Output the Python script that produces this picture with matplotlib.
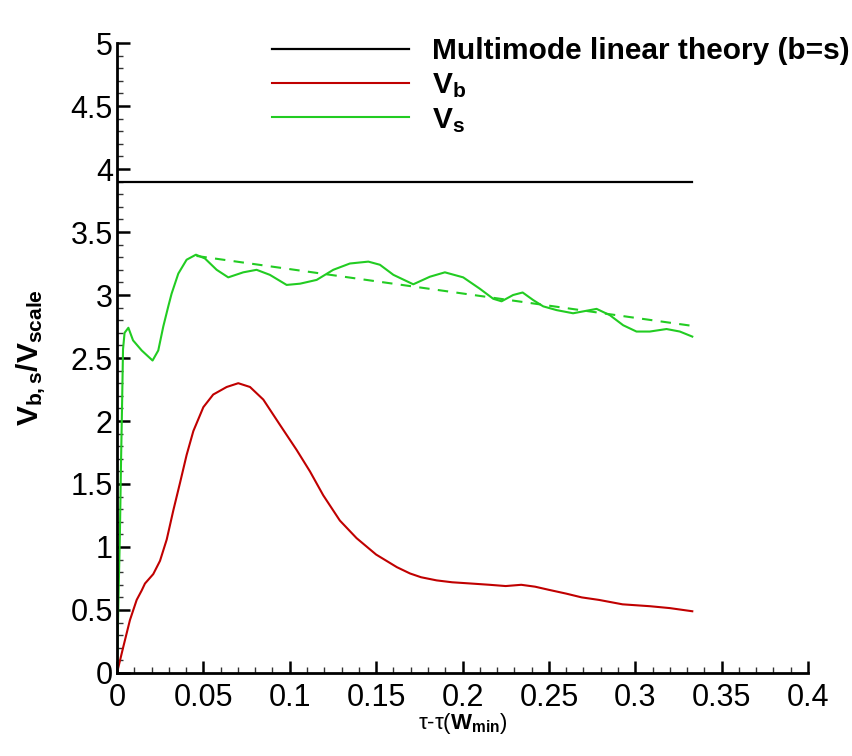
import numpy as np
import matplotlib
matplotlib.use('Agg')
import matplotlib.pyplot as plt
from matplotlib.ticker import MultipleLocator, FuncFormatter

# Data
theory_x = [0.0, 0.333]
theory_y = [3.9, 3.9]

vb_x = [0.0, 0.0037, 0.0075, 0.0114, 0.0143, 0.0162, 0.021, 0.0249, 0.0288, 0.0326,
        0.0365, 0.0403, 0.0442, 0.050, 0.0557, 0.0635, 0.0702, 0.077, 0.0847, 0.0943,
        0.104, 0.1117, 0.1194, 0.129, 0.1387, 0.150, 0.162, 0.1696, 0.176, 0.185,
        0.194, 0.205, 0.2157, 0.225, 0.234, 0.242, 0.250, 0.260, 0.269, 0.279,
        0.2926, 0.3085, 0.320, 0.333]
vb_y = [0.0, 0.21, 0.42, 0.58, 0.655, 0.71, 0.785, 0.89, 1.06, 1.29,
        1.51, 1.73, 1.92, 2.11, 2.21, 2.27, 2.30, 2.27, 2.17, 1.97,
        1.77, 1.60, 1.41, 1.21, 1.07, 0.94, 0.84, 0.79, 0.76, 0.735,
        0.72, 0.71, 0.70, 0.69, 0.70, 0.685, 0.66, 0.63, 0.60, 0.58,
        0.545, 0.53, 0.515, 0.49]

vs_x = [0.0, 0.0008, 0.0017, 0.0023, 0.003, 0.0035, 0.0044, 0.0066, 0.0093, 0.0143,
        0.0206, 0.0239, 0.0268, 0.0297, 0.0316, 0.0355, 0.0403, 0.0457, 0.0509, 0.0577,
        0.0644, 0.0731, 0.0808, 0.0885, 0.0982, 0.106, 0.1156, 0.1252, 0.1348, 0.1455,
        0.1522, 0.160, 0.1715, 0.1811, 0.1898, 0.2004, 0.210, 0.2178, 0.2226, 0.2293,
        0.2348, 0.2409, 0.2467, 0.2545, 0.264, 0.2718, 0.2776, 0.2853, 0.293, 0.3007,
        0.3084, 0.3181, 0.3258, 0.333]
vs_y = [0.0, 0.55, 1.11, 1.64, 2.17, 2.57, 2.70, 2.74, 2.64, 2.56,
        2.48, 2.56, 2.75, 2.91, 3.01, 3.17, 3.28, 3.32, 3.29, 3.20,
        3.14, 3.18, 3.20, 3.16, 3.08, 3.09, 3.12, 3.20, 3.25, 3.265,
        3.24, 3.16, 3.085, 3.145, 3.18, 3.14, 3.05, 2.97, 2.95, 3.00,
        3.02, 2.96, 2.91, 2.88, 2.855, 2.875, 2.89, 2.84, 2.76, 2.71,
        2.71, 2.73, 2.71, 2.67]

fit_x = [0.046, 0.333]
fit_y = [3.31, 2.755]

plt.rcParams['font.family'] = ['Liberation Sans', 'DejaVu Sans']
plt.rcParams['mathtext.fontset'] = 'custom'
plt.rcParams['mathtext.rm'] = 'Liberation Sans'
plt.rcParams['mathtext.it'] = 'Liberation Sans:italic'
plt.rcParams['mathtext.bf'] = 'Liberation Sans:bold'

fig = plt.figure(figsize=(8.52, 7.56), dpi=100)
ax = fig.add_axes([0.1373, 0.1098, 0.8111, 0.8333])

ax.plot(theory_x, theory_y, color='black', lw=1.6, label='Multimode linear theory (b=s)')
ax.plot(vb_x, vb_y, color='#c00000', lw=1.5, label=r'$\mathbf{V_b}$')
ax.plot(vs_x, vs_y, color='#22cc22', lw=1.5, label=r'$\mathbf{V_s}$')
ax.plot(fit_x, fit_y, color='#22cc22', lw=1.5, ls=(0, (5, 4)))

ax.set_xlim(0, 0.4)
ax.set_ylim(0, 5)
ax.spines['top'].set_visible(False)
ax.spines['right'].set_visible(False)
ax.spines['left'].set_linewidth(2)
ax.spines['bottom'].set_linewidth(2)

ax.xaxis.set_major_locator(MultipleLocator(0.05))
ax.xaxis.set_minor_locator(MultipleLocator(0.01))
ax.yaxis.set_major_locator(MultipleLocator(0.5))
ax.yaxis.set_minor_locator(MultipleLocator(0.1))
fmt = FuncFormatter(lambda v, p: '%g' % round(v, 3))
ax.xaxis.set_major_formatter(fmt)
ax.yaxis.set_major_formatter(fmt)
ax.tick_params(which='major', direction='in', length=9, width=1.8, labelsize=22)
ax.tick_params(axis='y', which='major', pad=3)
ax.tick_params(axis='x', which='major', pad=7)
ax.tick_params(which='minor', direction='in', length=4.5, width=1.0, color='#333333')

ax.set_xlabel(r'$\mathrm{\tau}$-$\mathrm{\tau}$($\mathbf{W_{min}}$)', fontsize=16, labelpad=-1)
ax.set_ylabel(r'$\mathbf{V_{b,s}/V_{scale}}$', fontsize=21.5)
ax.yaxis.set_label_coords(-0.10, 0.5)

leg = ax.legend(loc='upper left', bbox_to_anchor=(0.319, 0.951), bbox_transform=fig.transFigure,
                frameon=False, borderpad=0, borderaxespad=0,
                handlelength=4.6, handletextpad=0.75, labelspacing=0.2,
                prop={'weight': 'bold', 'size': 21.5})

fig.savefig('out.png', dpi=100)
